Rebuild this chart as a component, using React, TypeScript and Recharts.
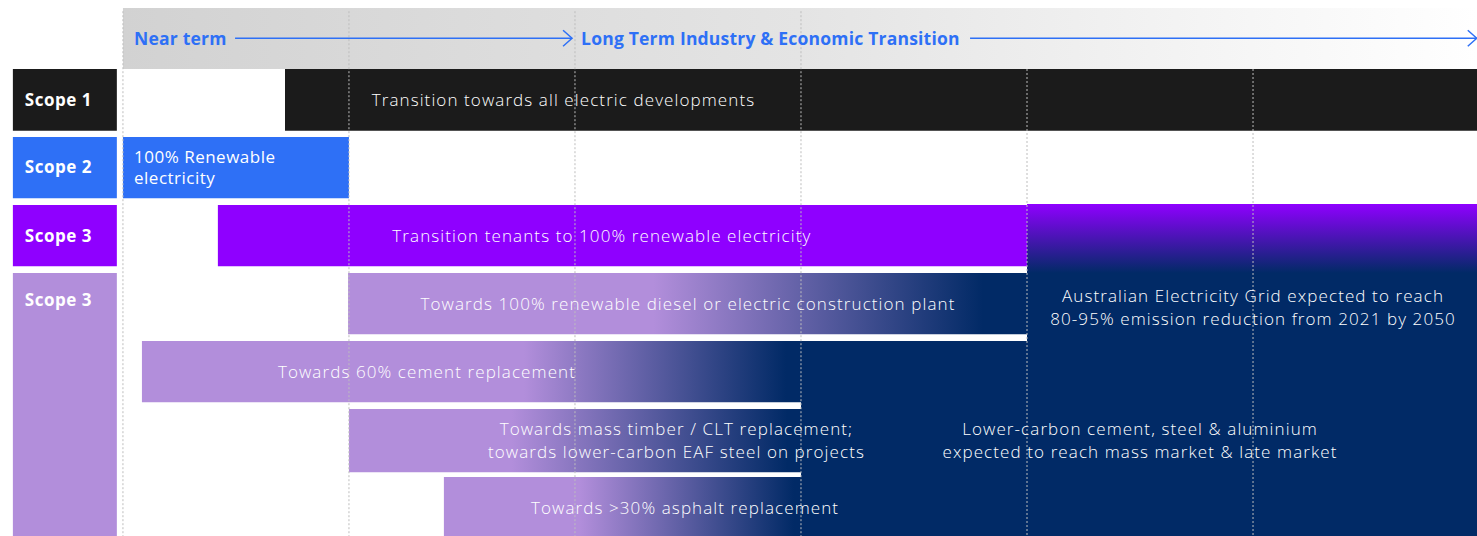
import React from 'react';
import {
  ComposedChart,
  XAxis,
  YAxis,
  ReferenceArea,
  ReferenceLine,
  ReferenceDot,
} from 'recharts';

if (typeof document !== 'undefined') document.body.style.margin = '0';

// x: one unit per timeline column (0 = start of "Near term")
// y: one unit per swim lane (0 = Scope 1 lane, header sits above 0)
const X_DOMAIN: [number, number] = [-0.544, 5.991];
const Y_DOMAIN: [number, number] = [-0.897, 6.868];

const columnLines = [0, 1, 2, 3, 4, 5];
const columnLineTops = [-0.85, -0.85, -0.85, -0.85, 0, 0];

const phases = ['Near term', 'Long Term Industry & Economic Transition'];
const phaseStarts = [0.049, 2.027];
const arrowStarts = [0.496, 3.748];
const arrowEnds = [1.987, 5.99];

const scopeLabels = ['Scope 1', 'Scope 2', 'Scope 3', 'Scope 3'];
const scopeFrom = [0, 1, 2, 3];
const scopeTo = [0.91, 1.9, 2.9, 6.868];
const scopeTextLane = [0.456, 1.44, 2.456, 3.4];

const taskLabels = [
  ['Transition towards all electric developments'],
  ['100% Renewable', 'electricity'],
  ['Transition tenants to 100% renewable electricity'],
  ['Towards 100% renewable diesel or electric construction plant'],
  ['Towards 60% cement replacement'],
  ['Towards mass timber / CLT replacement;', 'towards lower-carbon EAF steel on projects'],
  ['Towards >30% asphalt replacement'],
];
const taskLanes = [0, 1, 2, 3, 4, 5, 6];
const taskStarts = [0.717, 0, 0.42, 0.996, 0.084, 1, 1.42];
const taskEnds = [5.991, 1, 4, 4, 3, 3, 3];
const taskHeights = [0.91, 0.9, 0.9, 0.9, 0.9, 0.93, 0.868];
const taskLabelAt = [1.949, 0.049, 2.119, 2.5, 1.345, 2.449, 2.487];

const outlookLabels = [
  ['Australian Electricity Grid expected to reach', '80-95% emission reduction from 2021 by 2050'],
  ['Lower-carbon cement, steel & aluminium', 'expected to reach mass market & late market'],
];
const outlookX = [5, 4.5];
const outlookY = [3.507, 5.47];
const outlookFromColumn = [4, 3];
const outlookFromLane = [3, 4];

// styles
const NAVY = '#012a66';
const LILAC = '#b28edb';
const BLUE = '#2e70f6';
const SCOPE_COLORS = ['#1b1b1b', BLUE, '#8f00ff', LILAC];
const TASK_COLORS = ['#1b1b1b', BLUE, '#8f00ff', LILAC, LILAC, LILAC, LILAC];
// where the lilac bars fade into the navy outlook zone (fraction of bar width)
const FADES: Record<number, [number, number]> = {
  3: [0.45, 0.935],
  4: [0.58, 0.977],
  5: [0.36, 0.97],
  6: [0.38, 0.98],
};
const FONT = '"Open Sans", "Noto Sans", sans-serif';

function TextBlock({
  cx,
  cy,
  lines,
  anchor = 'middle',
  lineHeight = 23,
  size = 17,
  weight = 300,
  spacing = 1.1,
  color = '#fff',
}: any) {
  const offset = ((lines.length - 1) * lineHeight) / 2;
  return (
    <text
      x={cx}
      textAnchor={anchor}
      fill={color}
      fontSize={size}
      fontWeight={weight}
      fontFamily={FONT}
      style={{ letterSpacing: `${spacing}px` }}
    >
      {lines.map((line: string, i: number) => (
        <tspan key={i} x={cx} y={cy - offset + i * lineHeight} dy="0.35em">
          {line}
        </tspan>
      ))}
    </text>
  );
}

function Arrow({ x1, y1, x2, y2 }: any) {
  return (
    <g stroke={BLUE} strokeWidth={1.5} fill="none">
      <line x1={x1} y1={y1} x2={x2} y2={y2} />
      <polyline points={`${x2 - 9},${y2 - 8} ${x2},${y2} ${x2 - 9},${y2 + 8}`} />
    </g>
  );
}

export default function App() {
  return (
    <div style={{ width: 1477, height: 536, overflow: 'hidden', background: '#fff' }}>
      <ComposedChart width={1477} height={536} data={[]} margin={{ top: 8, right: 0, bottom: 0, left: 0 }}>
        <defs>
          <linearGradient id="headerFade" x1="0" y1="0" x2="1" y2="0">
            <stop offset="0" stopColor="#d2d2d2" />
            <stop offset="0.5" stopColor="#e4e4e4" />
            <stop offset="1" stopColor="#ffffff" />
          </linearGradient>
          <linearGradient id="purpleToNavy" x1="0" y1="0" x2="0" y2="1">
            <stop offset="0" stopColor="#8f00ff" />
            <stop offset="1" stopColor={NAVY} />
          </linearGradient>
          {Object.entries(FADES).map(([k, [a, b]]) => (
            <linearGradient key={k} id={`fade${k}`} x1="0" y1="0" x2="1" y2="0">
              <stop offset={a} stopColor={LILAC} />
              <stop offset={b} stopColor={NAVY} />
            </linearGradient>
          ))}
        </defs>
        <XAxis type="number" dataKey="x" domain={X_DOMAIN} hide allowDataOverflow />
        <YAxis type="number" dataKey="y" domain={Y_DOMAIN} reversed hide allowDataOverflow />

        {/* phase header */}
        <ReferenceArea
          x1={0}
          x2={X_DOMAIN[1]}
          y1={Y_DOMAIN[0]}
          y2={0}
          fill="url(#headerFade)"
          fillOpacity={1}
          ifOverflow="hidden"
        />

        {/* navy outlook zones */}
        <ReferenceArea
          x1={4}
          x2={X_DOMAIN[1]}
          y1={1.985}
          y2={3}
          fill="url(#purpleToNavy)"
          fillOpacity={1}
          ifOverflow="hidden"
        />
        {outlookFromColumn.map((c, i) => (
          <ReferenceArea
            key={`zone-${i}`}
            x1={c}
            x2={X_DOMAIN[1]}
            y1={outlookFromLane[i]}
            y2={Y_DOMAIN[1]}
            fill={NAVY}
            fillOpacity={1}
            ifOverflow="hidden"
          />
        ))}

        {/* scope labels column */}
        {scopeLabels.map((s, i) => (
          <ReferenceArea
            key={`scope-${i}`}
            x1={-0.487}
            x2={-0.027}
            y1={scopeFrom[i]}
            y2={scopeTo[i]}
            fill={SCOPE_COLORS[i]}
            fillOpacity={1}
            ifOverflow="hidden"
          />
        ))}

        {/* task bars */}
        {taskLanes.map((lane, i) => (
          <ReferenceArea
            key={`task-${i}`}
            x1={taskStarts[i]}
            x2={taskEnds[i]}
            y1={lane}
            y2={lane + taskHeights[i]}
            fill={FADES[i] ? `url(#fade${i})` : TASK_COLORS[i]}
            fillOpacity={1}
            ifOverflow="hidden"
          />
        ))}

        {/* dotted column lines */}
        {columnLines.map((c, i) => (
          <ReferenceLine
            key={`col-${c}`}
            segment={[
              { x: c, y: columnLineTops[i] },
              { x: c, y: Y_DOMAIN[1] },
            ]}
            stroke="#bdbdbd"
            strokeWidth={1}
            strokeDasharray="2 2"
            ifOverflow="hidden"
          />
        ))}

        {/* phase arrows + names */}
        {phases.map((p, i) => (
          <ReferenceLine
            key={`arrow-${i}`}
            segment={[
              { x: arrowStarts[i], y: -0.452 },
              { x: arrowEnds[i], y: -0.452 },
            ]}
            ifOverflow="visible"
            shape={(props: any) => <Arrow {...props} />}
          />
        ))}
        {phases.map((p, i) => (
          <ReferenceDot
            key={`phase-${i}`}
            x={phaseStarts[i]}
            y={-0.44}
            r={0}
            ifOverflow="visible"
            shape={(props: any) => (
              <TextBlock
                cx={props.cx}
                cy={props.cy}
                lines={[p]}
                anchor="start"
                size={17.5}
                weight={700}
                spacing={0.2}
                color={BLUE}
              />
            )}
          />
        ))}

        {scopeLabels.map((s, i) => (
          <ReferenceDot
            key={`scope-text-${i}`}
            x={-0.434}
            y={scopeTextLane[i]}
            r={0}
            ifOverflow="visible"
            shape={(props: any) => (
              <TextBlock cx={props.cx} cy={props.cy} lines={[s]} anchor="start" size={17} weight={700} spacing={0.5} />
            )}
          />
        ))}

        {taskLabels.map((lines, i) => (
          <ReferenceDot
            key={`task-text-${i}`}
            x={taskLabelAt[i]}
            y={taskLanes[i] + 0.456 + (i === 5 ? 0.01 : 0)}
            r={0}
            ifOverflow="visible"
            shape={(props: any) => (
              <TextBlock
                cx={props.cx}
                cy={props.cy}
                lines={lines}
                anchor={i === 1 ? 'start' : 'middle'}
                lineHeight={i === 1 ? 21 : 23}
                weight={i === 1 ? 400 : 300}
                spacing={i === 1 ? 0.5 : 1.1}
              />
            )}
          />
        ))}

        {outlookLabels.map((lines, i) => (
          <ReferenceDot
            key={`outlook-${i}`}
            x={outlookX[i]}
            y={outlookY[i]}
            r={0}
            ifOverflow="visible"
            shape={(props: any) => <TextBlock cx={props.cx} cy={props.cy} lines={lines} />}
          />
        ))}
      </ComposedChart>
    </div>
  );
}
